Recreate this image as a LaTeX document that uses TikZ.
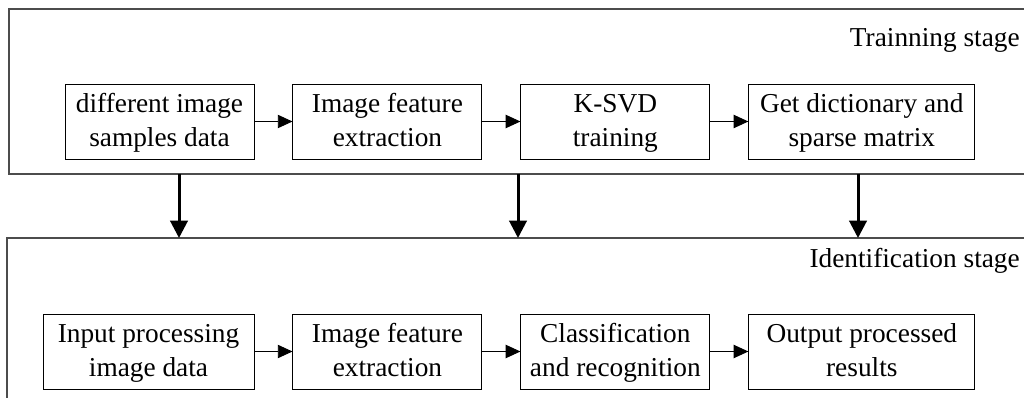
\documentclass[tikz,border=0pt]{standalone}
\usepackage{fontspec}
\setmainfont{Liberation Serif}
\usepackage{tikz}
\usetikzlibrary{arrows.meta, positioning}
\newcommand{\boxfont}{\fontsize{20.5pt}{25.5pt}\selectfont}
\tikzset{
  stepbox/.style={rectangle, draw=black, line width=0.7pt, align=center, font=\boxfont,
                  minimum height=56.25pt, minimum width=141.75pt, inner sep=0pt,
                  text height=46.2pt, text depth=8pt},
  stagebox/.style={draw=black!70, line width=0.8pt},
  arrowline/.style={-{Triangle[length=11pt, width=10pt]}, line width=0.7pt},
  bigarrow/.style={-{Triangle[length=13pt, width=13pt]}, line width=2.25pt},
}

\begin{document}
\begin{tikzpicture}[x=0.75pt, y=-0.75pt, node distance=28.5pt]
\useasboundingbox (0,0) rectangle (1024,398);
% stage frames
\draw[stagebox] (1024,9) -- (9,9) -- (9,174) -- (1024,174);
\draw[stagebox] (1024,238) -- (7,238) -- (7,398);
\node[font=\boxfont, anchor=base east, inner sep=0pt] (ts) at (1020,47) {Trainning stage};
\node[font=\boxfont, anchor=base east, inner sep=0pt] (is) at (1020,268) {Identification stage};
% training stage
\node[stepbox] (t1) at (159.5,121.5) {different image\\samples data};
\node[stepbox, right=of t1] (t2) {Image feature\\extraction};
\node[stepbox, right=of t2] (t3) {K-SVD\\training};
\node[stepbox, minimum width=169.5pt, right=of t3] (t4) {Get dictionary and\\sparse matrix};
\draw[arrowline] (t1) -- (t2);
\draw[arrowline] (t2) -- (t3);
\draw[arrowline] (t3) -- (t4);
% identification stage
\node[stepbox, minimum width=158.25pt] (i1) at (148.5,351.5) {Input processing\\image data};
\node[stepbox, right=of i1] (i2) {Image feature\\extraction};
\node[stepbox, right=of i2] (i3) {Classification\\and recognition};
\node[stepbox, minimum width=169.5pt, right=of i3] (i4) {Output processed\\results};
\draw[arrowline] (i1) -- (i2);
\draw[arrowline] (i2) -- (i3);
\draw[arrowline] (i3) -- (i4);
% links between the stages
\coordinate (a1) at (179,174);  \coordinate (b1) at (179,238);
\coordinate (a2) at (518,174);  \coordinate (b2) at (518,238);
\coordinate (a3) at (858,174);  \coordinate (b3) at (858,238);
\draw[bigarrow] (a1) -- (b1);
\draw[bigarrow] (a2) -- (b2);
\draw[bigarrow] (a3) -- (b3);
\end{tikzpicture}
\end{document}
